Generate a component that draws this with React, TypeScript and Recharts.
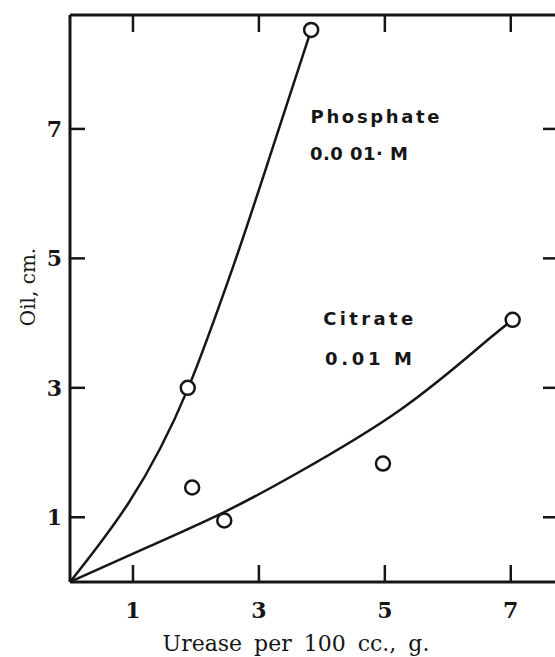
import { ComposedChart, Line, Scatter, XAxis, YAxis, ReferenceDot } from 'recharts';

const xTicks = [1, 3, 5, 7];
const yTicks = [1, 3, 5, 7];

// measured points: urease (g per 100 cc) vs oil (cm)
const phosphateX = [1.87, 3.83];
const phosphateY = [3.0, 8.53];
const citrateX = [1.94, 2.45, 4.97, 7.03];
const citrateY = [1.46, 0.95, 1.83, 4.05];

// hand drawn curves
const phosphateCurveX = [0, 1.87, 2.6, 3.3, 3.83];
const phosphateCurveY = [0, 2.98, 4.9, 6.95, 8.53];
const citrateCurveX = [0, 1.26, 2.45, 3.64, 5.23, 6.5, 7.03];
const citrateCurveY = [0, 0.55, 1.08, 1.7, 2.65, 3.63, 4.05];

const zip = (xs: number[], ys: number[]) => xs.map((x, i) => ({ x, y: ys[i] }));

const X_MAX = 7.75;
const Y_MAX = 8.76;

const INK = '#161616';
const SERIF = '"DejaVu Serif", serif';
const SANS = '"DejaVu Sans", sans-serif';

const notes = [
  { text: 'Phosphate', x: 3.82, y: 7.09, len: 129 },
  { text: '0.0 01· M', x: 3.81, y: 6.52, len: 98 },
  { text: 'Citrate', x: 4.02, y: 3.97, len: 90 },
  { text: '0.01 M', x: 4.05, y: 3.35, len: 87 },
];

const OpenCircle = (p: any) => (
  <circle cx={p.cx} cy={p.cy} r={7} fill="#fff" stroke={INK} strokeWidth={2.5} />
);

// short inward tick hanging from the top frame line
const TopTick = (p: any) => (
  <line x1={p.cx} x2={p.cx} y1={p.cy} y2={p.cy + 17} stroke={INK} strokeWidth={2.5} />
);

const NoLabel = () => <g />;

const axisLine = { stroke: INK, strokeWidth: 3 };
const tickLine = { stroke: INK, strokeWidth: 2.5 };
const tickFont = { fill: INK, fontFamily: SERIF, fontSize: 22, fontWeight: 'bold' };

export default function App() {
  return (
    <div style={{ position: 'absolute', left: 0, top: 0, width: 555, height: 657, overflow: 'hidden', background: '#fff' }}>
      <ComposedChart width={600} height={657} margin={{ top: 0, right: 41, bottom: 0, left: 0 }}>
        <XAxis
          xAxisId="b"
          dataKey="x"
          type="number"
          domain={[0, X_MAX]}
          ticks={xTicks}
          interval={0}
          height={75}
          axisLine={axisLine}
          tickLine={tickLine}
          tickSize={-17}
          tickMargin={37}
          tick={tickFont}
          label={{
            content: ({ viewBox }: any) => (
              <text
                x={viewBox.x + 226}
                y={viewBox.y + 69}
                textAnchor="middle"
                fill={INK}
                fontFamily={SERIF}
                fontSize={22}
                style={{ wordSpacing: 5 }}
              >
                Urease per 100 cc., g.
              </text>
            ),
          }}
        />
        <XAxis
          xAxisId="t"
          orientation="top"
          dataKey="x"
          type="number"
          domain={[0, X_MAX]}
          ticks={xTicks}
          interval={0}
          height={15}
          axisLine={axisLine}
          tickLine={false}
          tick={NoLabel}
        />
        <YAxis
          yAxisId="l"
          type="number"
          domain={[0, Y_MAX]}
          ticks={yTicks}
          interval={0}
          width={70}
          axisLine={axisLine}
          tickLine={tickLine}
          tickSize={-15}
          tickMargin={23}
          tick={tickFont}
          label={{
            content: ({ viewBox }: any) => {
              const cx = viewBox.x + 35;
              const cy = 287;
              return (
                <text
                  x={cx}
                  y={cy}
                  transform={`rotate(-90, ${cx}, ${cy})`}
                  textAnchor="middle"
                  fill={INK}
                  fontFamily={SERIF}
                  fontSize={20}
                >
                  Oil, cm.
                </text>
              );
            },
          }}
        />
        <YAxis
          yAxisId="r"
          orientation="right"
          type="number"
          domain={[0, Y_MAX]}
          ticks={yTicks}
          interval={0}
          width={1}
          axisLine={axisLine}
          tickLine={tickLine}
          tickSize={-15}
          tick={NoLabel}
        />

        {/* top frame ticks, placed through the top axis scale */}
        <Scatter
          xAxisId="t"
          yAxisId="l"
          data={xTicks.map((t) => ({ x: t, y: Y_MAX }))}
          dataKey="y"
          shape={TopTick}
          isAnimationActive={false}
        />

        <Line
          xAxisId="t"
          yAxisId="l"
          data={zip(phosphateCurveX, phosphateCurveY)}
          dataKey="y"
          type="monotone"
          stroke={INK}
          strokeWidth={2.5}
          dot={false}
          isAnimationActive={false}
        />
        <Line
          xAxisId="b"
          yAxisId="l"
          data={zip(citrateCurveX, citrateCurveY)}
          dataKey="y"
          type="natural"
          stroke={INK}
          strokeWidth={2.5}
          dot={false}
          isAnimationActive={false}
        />
        <Scatter
          xAxisId="b"
          yAxisId="l"
          data={zip(phosphateX, phosphateY)}
          dataKey="y"
          shape={OpenCircle}
          isAnimationActive={false}
        />
        <Scatter
          xAxisId="b"
          yAxisId="r"
          data={zip(citrateX, citrateY)}
          dataKey="y"
          shape={OpenCircle}
          isAnimationActive={false}
        />

        {notes.map((n) => (
          <ReferenceDot
            key={n.text}
            xAxisId="b"
            yAxisId="l"
            x={n.x}
            y={n.y}
            r={0}
            shape={(p: any) => (
              <text
                x={p.cx}
                y={p.cy}
                textLength={n.len}
                lengthAdjust="spacing"
                fill={INK}
                fontFamily={SANS}
                fontWeight="bold"
                fontSize={18}
              >
                {n.text}
              </text>
            )}
          />
        ))}
      </ComposedChart>
    </div>
  );
}
